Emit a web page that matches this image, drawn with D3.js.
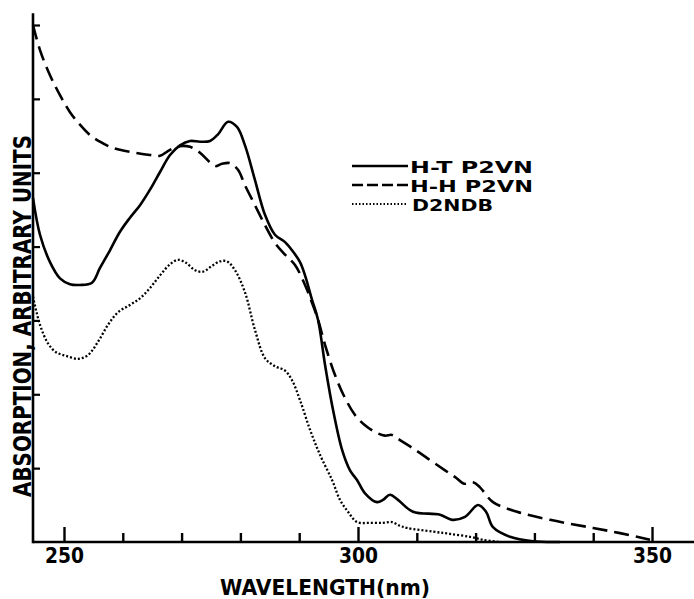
<!DOCTYPE html>
<html>
<head>
<meta charset="utf-8">
<script src="https://cdn.jsdelivr.net/npm/d3@7"></script>
<style>
  html, body { margin: 0; padding: 0; background: #fff; }
  svg { display: block; }
  text { font-family: "DejaVu Sans", "Liberation Sans", sans-serif; font-weight: bold; fill: #000; }
</style>
</head>
<body>
<svg id="chart" width="694" height="599"></svg>
<script>
// ---------- data ----------
const htWavelength = [244.73,245.92,247.62,249.32,251.02,252.72,254.76,256.12,257.82,259.52,261.22,262.93,264.63,266.33,268.03,269.73,271.43,273.13,274.83,276.19,277.89,279.42,280.78,282.48,284.18,285.88,287.59,288.78,290.14,290.99,292.18,293.20,294.39,295.75,297.28,298.64,299.83,301.19,303.23,304.25,305.44,306.80,309.35,313.95,315.99,318.20,320.41,321.77,322.96,325.85,329.76,334.35];
const htAbsorption = [4.66,4.16,3.79,3.57,3.49,3.48,3.51,3.71,3.95,4.20,4.39,4.56,4.77,5.01,5.24,5.37,5.43,5.42,5.43,5.52,5.69,5.62,5.37,4.90,4.43,4.16,4.06,3.95,3.79,3.61,3.28,3.01,2.40,1.79,1.25,0.97,0.84,0.66,0.54,0.57,0.64,0.57,0.41,0.37,0.30,0.34,0.50,0.41,0.20,0.07,0.01,0.00];

const hhWavelength = [244.73,245.92,247.62,249.32,251.02,252.72,254.42,256.12,257.82,259.52,262.07,264.63,266.33,268.03,269.73,271.43,273.13,274.83,275.85,276.87,278.23,279.59,280.78,282.48,284.18,285.88,287.59,289.29,290.99,292.18,293.20,294.39,296.09,297.79,299.49,301.19,302.89,304.59,305.78,307.14,309.69,312.24,314.80,316.67,318.03,319.56,320.75,322.96,327.04,332.65,339.97,344.56,349.66];
const hhAbsorption = [7.00,6.66,6.32,6.05,5.82,5.65,5.51,5.42,5.35,5.31,5.27,5.24,5.23,5.31,5.36,5.35,5.27,5.14,5.09,5.12,5.13,5.04,4.83,4.56,4.29,4.05,3.89,3.75,3.48,3.24,3.01,2.67,2.26,1.95,1.72,1.58,1.49,1.44,1.45,1.38,1.25,1.11,0.97,0.87,0.79,0.81,0.74,0.54,0.41,0.30,0.19,0.12,0.03];

const dnWavelength = [244.73,245.92,247.28,248.64,250.34,252.38,254.08,255.78,257.48,259.18,261.22,262.93,264.63,266.33,268.03,269.39,270.75,272.28,273.64,275.17,276.53,277.72,279.08,280.78,282.48,284.18,285.88,287.59,288.78,290.14,291.84,293.54,295.58,296.94,298.30,299.83,302.04,304.25,305.78,307.14,308.33,312.76,315.65,319.05,321.26,324.15];
const dnAbsorption = [3.32,2.94,2.69,2.57,2.52,2.48,2.53,2.71,2.94,3.11,3.21,3.30,3.44,3.61,3.76,3.82,3.78,3.68,3.66,3.74,3.80,3.80,3.68,3.38,2.87,2.49,2.38,2.32,2.19,1.92,1.52,1.18,0.84,0.57,0.41,0.27,0.26,0.26,0.27,0.22,0.19,0.14,0.11,0.07,0.03,0.00];

const seriesNames = ["H-T  P2VN", "H-H P2VN", "D2NDB"];
const majorTicks = [250, 300, 350];
const minorTicks = [260, 270, 280, 290, 310, 320, 330, 340];
const yTicks = [1, 2, 3, 4, 5, 6, 7];
const xTitle = "WAVELENGTH(nm)";
const yTitle = "ABSORPTION, ARBITRARY UNITS";

// ---------- layout ----------
const svg = d3.select("#chart");
const x = d3.scaleLinear().domain([244.73, 357.14]).range([33, 694]);
const y = d3.scaleLinear().domain([0, 7]).range([542, 25]);

const axisColor = "#000";

// axes lines
svg.append("line").attr("x1", x(244.73)).attr("x2", x(357.14))
  .attr("y1", y(0)).attr("y2", y(0)).attr("stroke", axisColor).attr("stroke-width", 2.6);
svg.append("line").attr("x1", x(244.73)).attr("x2", x(244.73))
  .attr("y1", y(0) + 1.3).attr("y2", y(7.16)).attr("stroke", axisColor).attr("stroke-width", 2.6);

// x minor ticks
const minorAxis = d3.axisBottom(x).tickValues(minorTicks).tickSizeInner(-9).tickSizeOuter(0).tickFormat("");
const gMinor = svg.append("g").attr("transform", `translate(0,${y(0)})`).call(minorAxis);
gMinor.select(".domain").remove();
gMinor.selectAll(".tick line").attr("stroke", axisColor).attr("stroke-width", 2.4);

// x major ticks + labels
const majorAxis = d3.axisBottom(x).tickValues(majorTicks).tickSizeInner(-15).tickSizeOuter(0).tickPadding(8).tickFormat(d3.format("d"));
const gMajor = svg.append("g").attr("transform", `translate(0,${y(0)})`).call(majorAxis);
gMajor.select(".domain").remove();
gMajor.selectAll(".tick line").attr("stroke", axisColor).attr("stroke-width", 2.4);
gMajor.selectAll(".tick text")
  .attr("y", 21).attr("dy", null)
  .attr("font-size", 21).attr("font-weight", "bold")
  .attr("font-family", "DejaVu Sans, sans-serif").attr("fill", "#000")
  .attr("textLength", 39).attr("lengthAdjust", "spacingAndGlyphs");

// y ticks
const yAxis = d3.axisLeft(y).tickValues(yTicks).tickSizeInner(-7).tickSizeOuter(0).tickFormat("");
const gY = svg.append("g").attr("transform", `translate(${x(244.73)},0)`).call(yAxis);
gY.select(".domain").remove();
gY.selectAll(".tick line").attr("stroke", axisColor).attr("stroke-width", 2.2);

// titles
svg.append("text").attr("x", 220).attr("y", 595)
  .attr("font-size", 21).attr("textLength", 210).attr("lengthAdjust", "spacingAndGlyphs")
  .text(xTitle);
svg.append("text").attr("transform", "translate(31,316) rotate(-90)")
  .attr("text-anchor", "middle").attr("font-size", 25)
  .attr("textLength", 362).attr("lengthAdjust", "spacingAndGlyphs")
  .text(yTitle);

// curves
const line = d3.line().x(d => x(d[0])).y(d => y(d[1])).curve(d3.curveCatmullRom.alpha(0.5));
const series = [
  { w: htWavelength, a: htAbsorption, dash: null, width: 2.6 },
  { w: hhWavelength, a: hhAbsorption, dash: "15,7", width: 2.6 },
  { w: dnWavelength, a: dnAbsorption, dash: "2,2", width: 2.3 }
];
series.forEach(s => {
  const pts = s.w.map((w, i) => [w, s.a[i]]);
  svg.append("path").datum(pts).attr("d", line)
    .attr("fill", "none").attr("stroke", "#000")
    .attr("stroke-width", s.width)
    .attr("stroke-dasharray", s.dash);
});

// legend
const legendRows = [
  { yl: 166, yt: 173, dash: null, width: 2.6, len: 123 },
  { yl: 185, yt: 192, dash: "11,4", width: 2.6, len: 123 },
  { yl: 204, yt: 211, dash: "1.5,2", width: 2, len: 81 }
];
legendRows.forEach((r, i) => {
  svg.append("line").attr("x1", 352).attr("x2", 408).attr("y1", r.yl).attr("y2", r.yl)
    .attr("stroke", "#000").attr("stroke-width", r.width).attr("stroke-dasharray", r.dash);
  svg.append("text").attr("x", i === 2 ? 412 : 410).attr("y", r.yt)
    .attr("font-size", 16).attr("textLength", r.len).attr("lengthAdjust", "spacingAndGlyphs")
    .text(seriesNames[i]);
});
</script>
</body>
</html>
